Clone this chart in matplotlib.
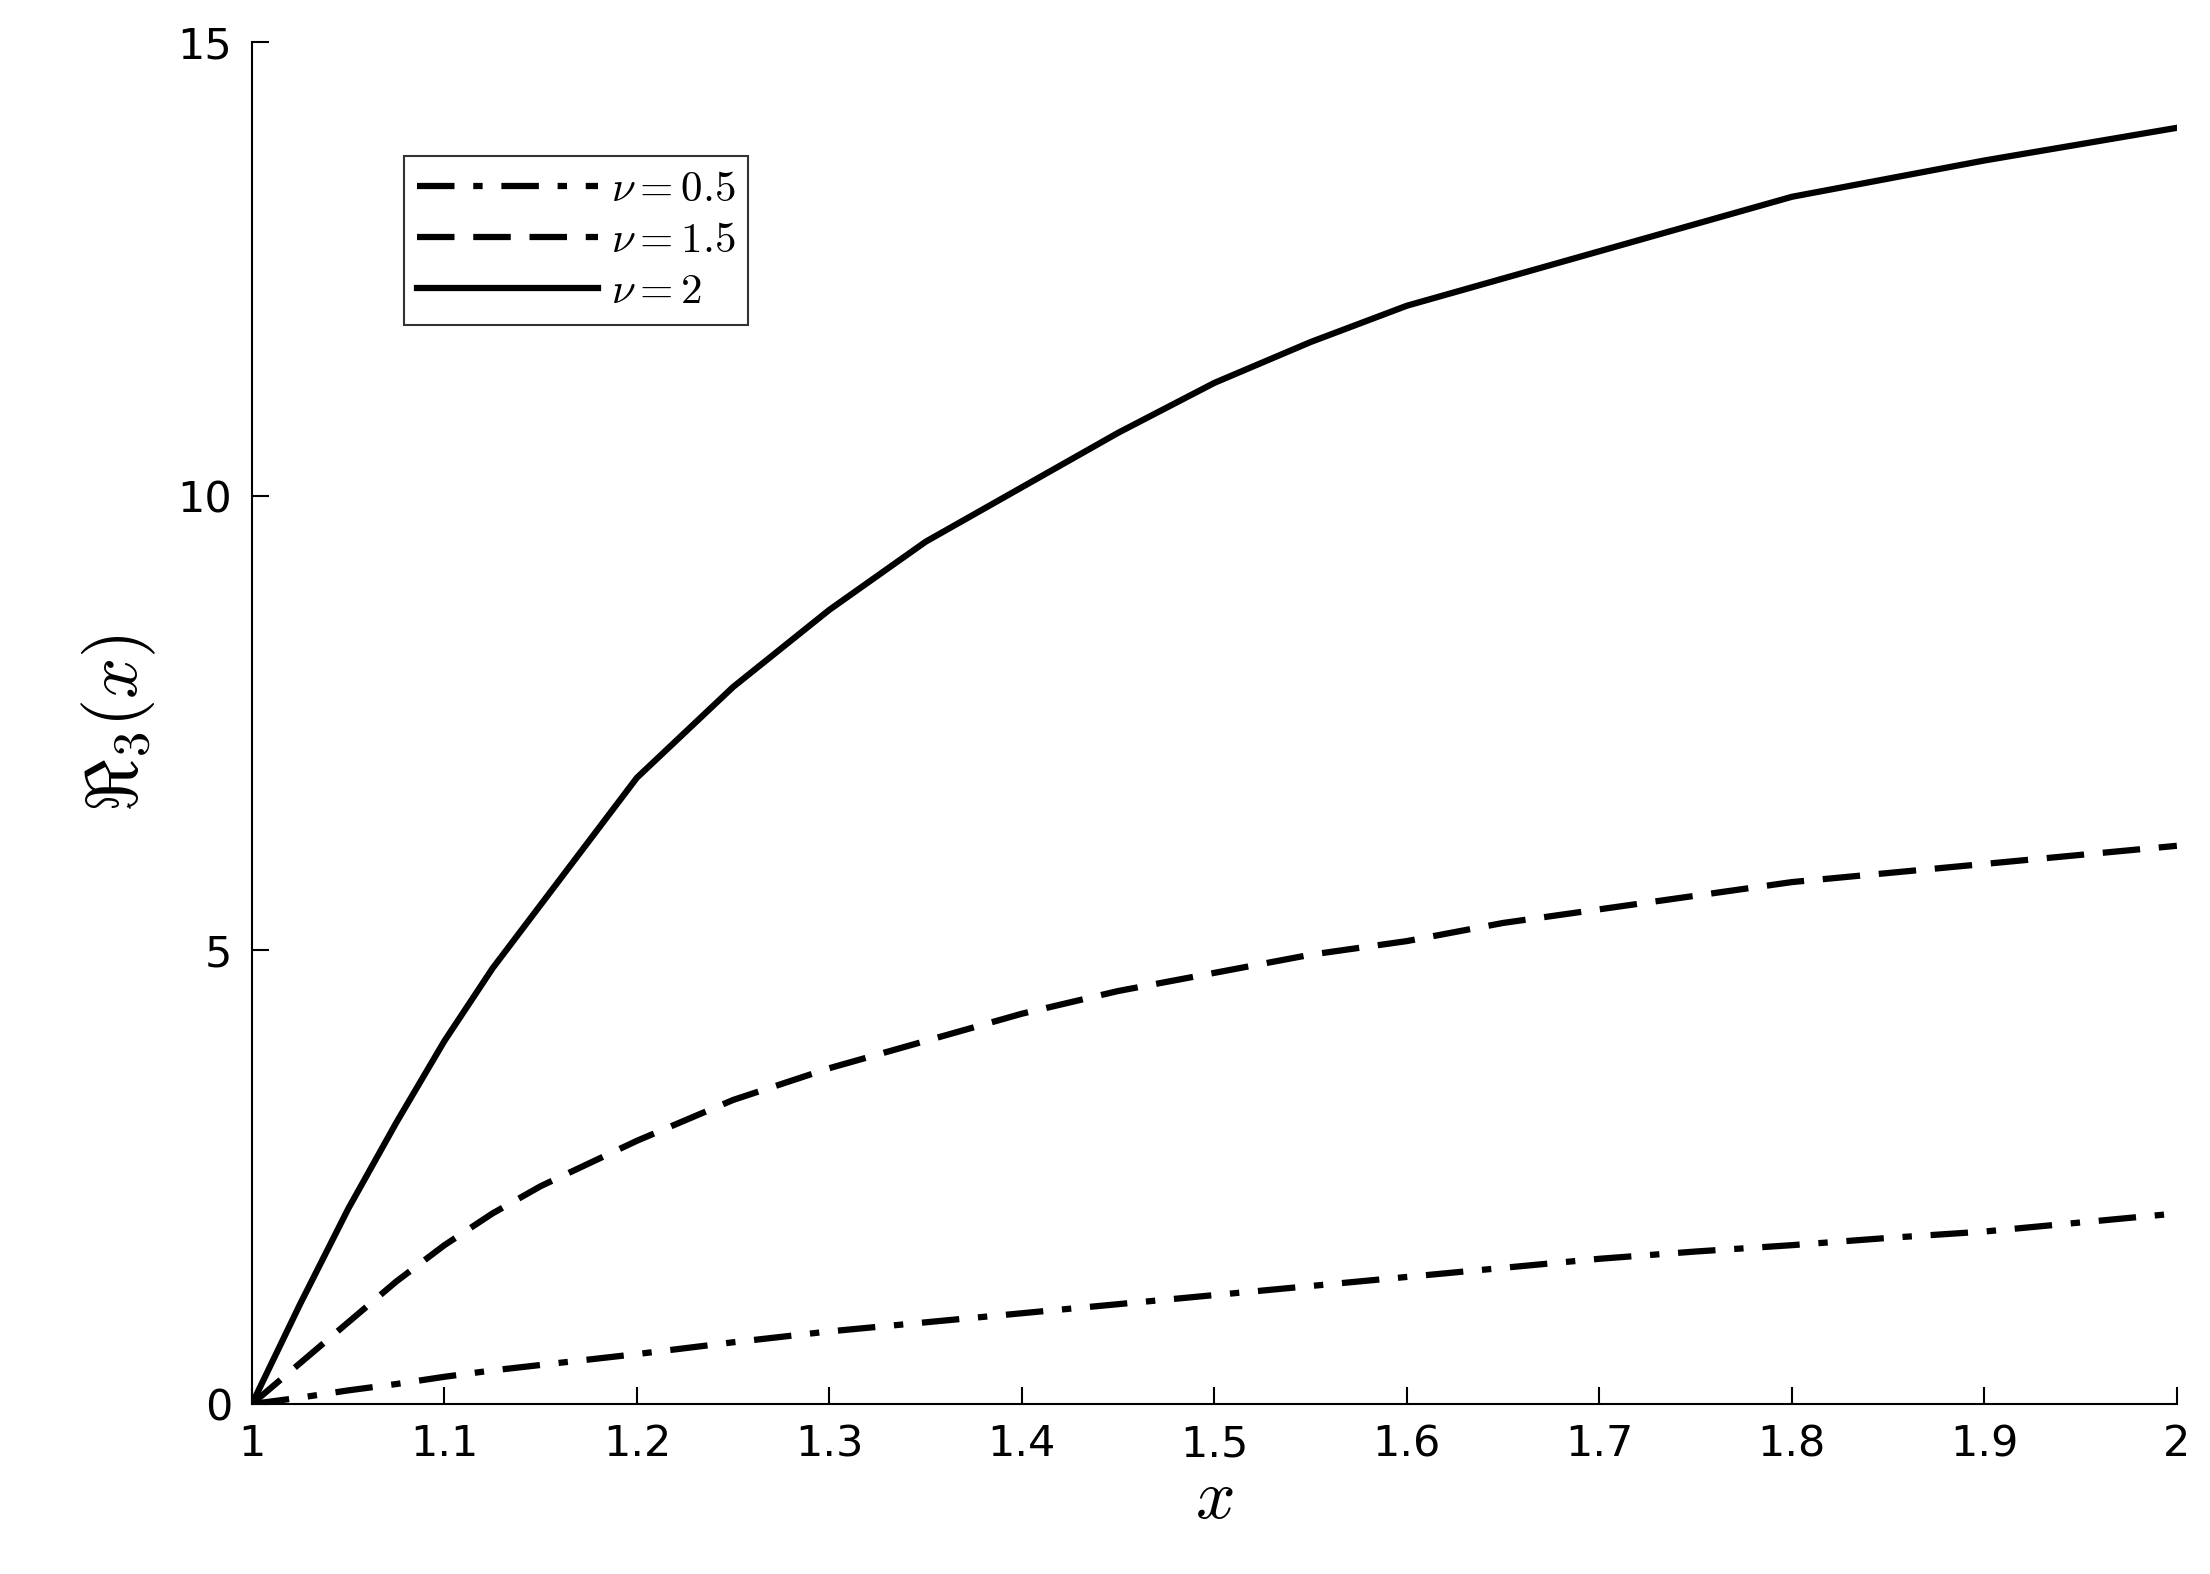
import numpy as np
import matplotlib.pyplot as plt

x = [1.0, 1.025, 1.05, 1.075, 1.1, 1.125, 1.15, 1.175, 1.2, 1.25, 1.3, 1.35, 1.4, 1.45,
     1.5, 1.55, 1.6, 1.65, 1.7, 1.75, 1.8, 1.85, 1.9, 1.95, 2.0]
nu_05 = [0.0, 0.07, 0.15, 0.22, 0.3, 0.37, 0.43, 0.49, 0.55, 0.68, 0.8, 0.9, 1.0, 1.1,
         1.2, 1.3, 1.4, 1.5, 1.6, 1.68, 1.75, 1.83, 1.9, 2.0, 2.1]
nu_15 = [0.0, 0.45, 0.9, 1.35, 1.75, 2.1, 2.4, 2.65, 2.9, 3.35, 3.7, 4.0, 4.3, 4.55,
         4.75, 4.95, 5.1, 5.3, 5.45, 5.6, 5.75, 5.85, 5.95, 6.05, 6.15]
nu_2 = [0.0, 1.1, 2.15, 3.1, 4.0, 4.8, 5.5, 6.2, 6.9, 7.9, 8.75, 9.5, 10.1, 10.7,
        11.25, 11.7, 12.1, 12.4, 12.7, 13.0, 13.3, 13.5, 13.7, 13.88, 14.06]

plt.rcParams['mathtext.fontset'] = 'cm'
fig = plt.figure(figsize=(22.1, 15.74), dpi=100)
ax = fig.add_axes([0.114, 0.108, 0.871, 0.865])

ax.plot(x, nu_05, color='k', lw=4.5, linestyle=(0, (6, 3, 1.5, 3)), label=r'$\mathbf{\nu = 0.5}$')
ax.plot(x, nu_15, color='k', lw=4.5, linestyle=(0, (6, 3)), label=r'$\mathbf{\nu = 1.5}$')
ax.plot(x, nu_2, color='k', lw=4.5, label=r'$\mathbf{\nu = 2}$')

ax.set_xlim(1, 2)
ax.set_ylim(0, 15)
ax.set_xticks(np.arange(1, 2.01, 0.1))
ax.set_xticklabels(['1', '1.1', '1.2', '1.3', '1.4', '1.5', '1.6', '1.7', '1.8', '1.9', '2'])
ax.set_yticks([0, 5, 10, 15])
ax.tick_params(labelsize=31, direction='in', length=12, width=1.5, pad=14, top=False, right=False)
for s in ['top', 'right']:
    ax.spines[s].set_visible(False)
for s in ['left', 'bottom']:
    ax.spines[s].set_linewidth(1.5)
ax.set_xlabel(r'$x$', fontsize=50, labelpad=0)
ax.set_ylabel(r'$\Re_3(x)$', fontsize=52, labelpad=14)

leg = ax.legend(loc='upper left', bbox_to_anchor=(0.079, 0.917), fontsize=31,
                frameon=True, fancybox=False, edgecolor='k', handlelength=4.2,
                borderaxespad=0, labelspacing=0.2, borderpad=0.3, handletextpad=0.3)
leg.get_frame().set_linewidth(1.5)

fig.savefig('out.png')
